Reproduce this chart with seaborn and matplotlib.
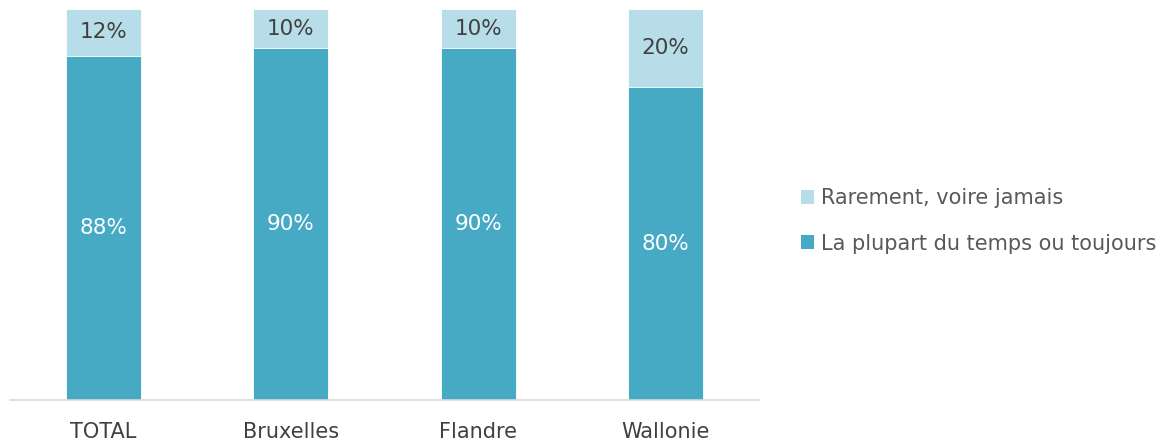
import matplotlib
matplotlib.use("Agg")
import matplotlib.pyplot as plt
import seaborn as sns
import pandas as pd
from matplotlib.patches import Patch

categories = ["TOTAL", "Bruxelles", "Flandre", "Wallonie"]
most_always = [88, 90, 90, 80]
rarely_never = [12, 10, 10, 20]
series_names = ["Rarement, voire jamais", "La plupart du temps ou toujours"]

c_dark = "#46AAC5"
c_light = "#B7DEE8"

sns.set_theme(style="white")
plt.rcParams["font.family"] = ["DejaVu Sans"]

df = pd.DataFrame({"cat": categories, "low": most_always, "high": rarely_never})
df["total"] = df["low"] + df["high"]

fig = plt.figure(figsize=(11.72, 4.43), dpi=100)
ax = fig.add_axes([10 / 1172, 43 / 443, 749 / 1172, 391 / 443])

sns.barplot(data=df, x="cat", y="total", color=c_light, width=0.4, ax=ax,
            saturation=1, edgecolor="white", linewidth=0.6)
sns.barplot(data=df, x="cat", y="low", color=c_dark, width=0.4, ax=ax,
            saturation=1, edgecolor="white", linewidth=0.6)

top_cont, low_cont = ax.containers[0], ax.containers[1]
for rect, v, lo in zip(top_cont, rarely_never, most_always):
    x = rect.get_x() + rect.get_width() / 2
    ax.text(x, lo + v / 2, f"{v}%", ha="center", va="center",
            fontsize=15.5, color="#404040")
ax.bar_label(low_cont, labels=[f"{v}%" for v in most_always], label_type="center",
             fontsize=15.5, color="white")

ax.set_ylim(0, 100)
ax.set_xlim(-0.5, 3.5)
ax.set_xlabel("")
ax.set_ylabel("")
ax.set_yticks([])
for s in ["left", "right", "top"]:
    ax.spines[s].set_visible(False)
ax.spines["bottom"].set_color("#D9D9D9")
ax.spines["bottom"].set_linewidth(1.2)
ax.tick_params(axis="x", length=0, pad=16, labelsize=15, labelcolor="#404040")

handles = [Patch(facecolor=c_light, edgecolor="none"), Patch(facecolor=c_dark, edgecolor="none")]
fig.legend(handles, series_names, loc="center left", bbox_to_anchor=(782 / 1172, 222 / 443),
           frameon=False, fontsize=15, labelcolor="#595959", handlelength=0.65,
           handleheight=0.65, handletextpad=0.3, labelspacing=1.2)

fig.savefig("out.png", dpi=100)
